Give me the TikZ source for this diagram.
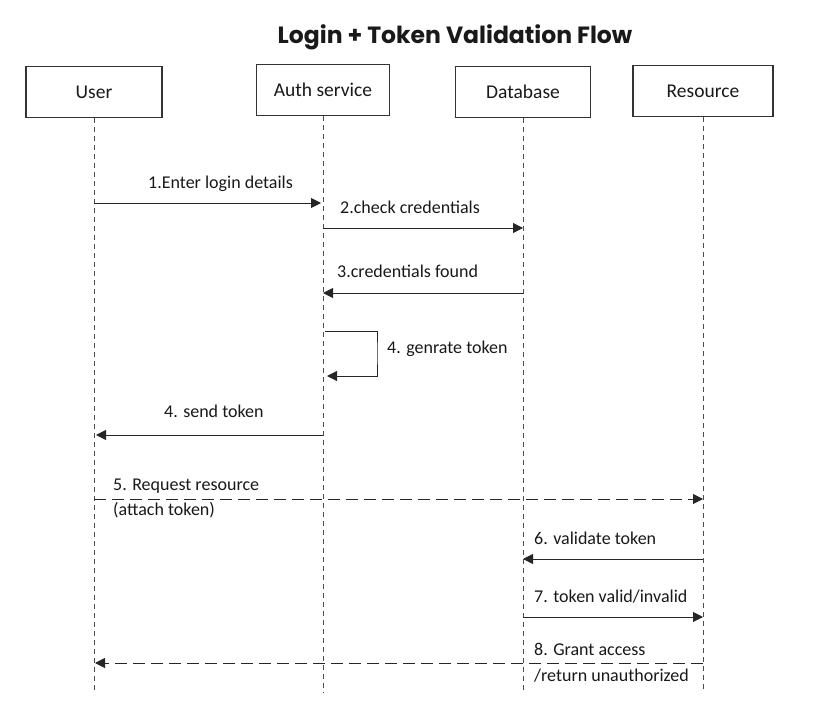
\documentclass[tikz,border=0pt]{standalone}
\usepackage{fontspec}
\setmainfont{Carlito}
\newfontfamily\titlefont{Poppins}
\usetikzlibrary{arrows.meta}
\begin{document}
\begin{tikzpicture}[x=1pt,y=-1pt,
  actor/.style={draw=black!80, line width=1.1pt, fill=white, minimum height=51pt, inner sep=0pt, font=\fontsize{19.5}{22}\selectfont, text=black!90},
  lifeline/.style={draw=black!70, line width=0.9pt, dash pattern=on 5pt off 4pt},
  msg/.style={draw=black!85, line width=1pt, -{Triangle[length=10pt,width=10pt]}},
  dmsg/.style={msg, dash pattern=on 12pt off 6pt},
  lbl/.style={anchor=base west, inner sep=0pt, font=\fontsize{18}{20}\selectfont, text=black!90}]
\fill[white] (0,0) rectangle (823,712);
\useasboundingbox (0,0) rectangle (823,712);

\node[anchor=base, font=\titlefont\bfseries\fontsize{23.5}{26}\selectfont, text=black!90] (title) at (455,43) {Login + Token Validation Flow};

\node[actor, minimum width=136pt] (user) at (94,92) {User};
\node[actor, minimum width=133pt] (auth) at (323,90) {Auth service};
\node[actor, minimum width=135pt] (db) at (523,92) {Database};
\node[actor, minimum width=140pt] (res) at (703,91) {Resource};

\coordinate (uend) at (94,693);
\coordinate (aend) at (323,693);
\coordinate (dend) at (523,693);
\coordinate (rend) at (703,693);
\draw[lifeline] (user.south) -- (uend);
\draw[lifeline] (auth.south) -- (aend);
\draw[lifeline] (db.south) -- (dend);
\draw[lifeline] (res.south) -- (rend);

% message coordinates
\coordinate (m1a) at (94,203);  \coordinate (m1b) at (321,203);
\coordinate (m2a) at (323,228); \coordinate (m2b) at (523,228);
\coordinate (m3a) at (523,293); \coordinate (m3b) at (323,293);
\coordinate (m4a) at (325,331); \coordinate (m4r) at (377,353); \coordinate (m4b) at (327,376);
\coordinate (m5a) at (323,435); \coordinate (m5b) at (96,435);
\coordinate (m6a) at (94,499);  \coordinate (m6b) at (703,499);
\coordinate (m7a) at (703,559); \coordinate (m7b) at (523,559);
\coordinate (m8a) at (523,617); \coordinate (m8b) at (703,617);
\coordinate (m9a) at (703,663); \coordinate (m9b) at (95,663);

\draw[msg] (m1a) -- (m1b);
\draw[msg] (m2a) -- (m2b);
\draw[msg] (m3a) -- (m3b);
\draw[msg] (m4a) -| (m4r) |- (m4b);
\draw[msg] (m5a) -- (m5b);
\draw[dmsg] (m6a) -- (m6b);
\draw[msg] (m7a) -- (m7b);
\draw[msg] (m8a) -- (m8b);
\draw[dmsg] (m9a) -- (m9b);

\node[lbl] (l1) at (148,188) {1.Enter login details};
\node[lbl] (l2) at (340,213) {2.check credentials};
\node[lbl] (l3) at (337,277) {3.credentials found};
\node[lbl] (l4) at (387,353) {4. genrate token};
\node[lbl] (l5) at (164,417) {4. send token};
\node[lbl] (l6) at (113,490) {5. Request resource};
\node[lbl] (l6b) at (113,515) {(attach token)};
\node[lbl] (l7) at (534,544) {6. validate token};
\node[lbl] (l8) at (534,602) {7. token valid/invalid};
\node[lbl] (l9) at (534,655) {8. Grant access};
\node[lbl] (l9b) at (534,681) {/return unauthorized};
\end{tikzpicture}
\end{document}
